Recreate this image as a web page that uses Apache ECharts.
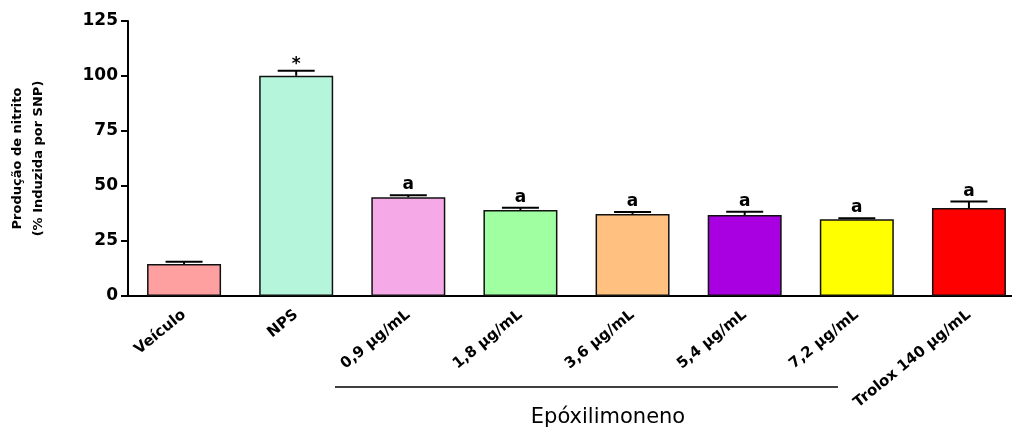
<!DOCTYPE html>
<html>
<head>
<meta charset="utf-8">
<script src="https://cdn.jsdelivr.net/npm/echarts@6/dist/echarts.min.js"></script>
<style>
  html, body { margin: 0; padding: 0; background: #fff; }
  #chart { width: 1012px; height: 429px; }
</style>
</head>
<body>
<div id="chart"></div>
<script>
// Nitrite production per group (% of SNP-induced), mean and SEM
const categories = ['Veículo', 'NPS', '0,9 µg/mL', '1,8 µg/mL', '3,6 µg/mL', '5,4 µg/mL', '7,2 µg/mL', 'Trolox 140 µg/mL'];
const means = [14.5, 100.1, 44.9, 39.1, 37.3, 36.8, 34.9, 40.0];
const sem = [1.1, 2.3, 0.9, 1.0, 0.9, 1.5, 0.4, 2.9];
const marks = ['', '*', 'a', 'a', 'a', 'a', 'a', 'a'];
const colors = ['#FFA0A0', '#B4F5DC', '#F5A9E6', '#A0FFA0', '#FFC080', '#A800E0', '#FFFF00', '#FF0000'];
const yTicks = [0, 25, 50, 75, 100, 125];

const BOLD = '"DejaVu Sans", "Liberation Sans", Arial, sans-serif';

const chart = echarts.init(document.getElementById('chart'));

const barData = means.map((v, i) => ({
  value: v,
  itemStyle: { color: colors[i] }
}));
const errData = means.map((v, i) => [i, v, v + sem[i], marks[i]]);

chart.setOption({
  animation: false,
  backgroundColor: '#fff',
  grid: { left: 128, right: -13, top: 21, bottom: 133, containLabel: false, outerBoundsMode: 'none' },
  xAxis: {
    type: 'category',
    data: categories,
    axisLine: { lineStyle: { color: '#000', width: 2 } },
    axisTick: { show: false },
    axisLabel: {
      rotate: 39,
      interval: 0,
      margin: 17,
      color: '#000',
      fontFamily: BOLD,
      fontWeight: 'bold',
      fontSize: 15
    }
  },
  yAxis: {
    type: 'value',
    min: yTicks[0],
    max: yTicks[yTicks.length - 1],
    interval: 25,
    name: 'Produção de nitrito\n(% Induzida por SNP)',
    nameLocation: 'middle',
    nameGap: 79,
    nameRotate: 90,
    nameTextStyle: {
      color: '#000',
      fontFamily: BOLD,
      fontWeight: 'bold',
      fontSize: 13,
      lineHeight: 21,
      align: 'center'
    },
    splitLine: { show: false },
    axisLine: { show: true, lineStyle: { color: '#000', width: 2 } },
    axisTick: { show: true, length: 7, lineStyle: { color: '#000', width: 2 } },
    axisLabel: {
      margin: 10,
      color: '#000',
      fontFamily: BOLD,
      fontWeight: 'bold',
      fontSize: 17
    }
  },
  series: [
    {
      type: 'bar',
      data: barData,
      barWidth: 74,
      itemStyle: { borderColor: '#111', borderWidth: 1.5 }
    },
    {
      type: 'custom',
      data: errData,
      encode: { x: 0, y: [1, 2] },
      z: 5,
      renderItem: function (params, api) {
        const i = api.value(0);
        const base = api.coord([i, api.value(1)]);
        const top = api.coord([i, api.value(2)]);
        const half = api.size([1, 0])[0] * 0.165;
        const mark = errData[params.dataIndex][3];
        const style = { stroke: '#000', lineWidth: 2 };
        const children = [
          { type: 'line', shape: { x1: base[0], y1: base[1], x2: top[0], y2: top[1] }, style: style },
          { type: 'line', shape: { x1: top[0] - half, y1: top[1], x2: top[0] + half, y2: top[1] }, style: style }
        ];
        if (mark) {
          children.push({
            type: 'text',
            style: {
              text: mark,
              x: top[0],
              y: top[1] + (mark === '*' ? 2 : -2),
              align: 'center',
              verticalAlign: 'bottom',
              fill: '#000',
              font: 'bold 17px ' + BOLD
            }
          });
        }
        return { type: 'group', children: children };
      }
    }
  ],
  graphic: [
    {
      type: 'line',
      shape: { x1: 335, y1: 387, x2: 838, y2: 387 },
      style: { stroke: '#000', lineWidth: 1.6 }
    },
    {
      type: 'text',
      x: 608,
      y: 428,
      style: {
        text: 'Epóxilimoneno',
        align: 'center',
        verticalAlign: 'bottom',
        fill: '#000',
        font: '21px "DejaVu Sans", "Liberation Sans", Arial, sans-serif'
      }
    }
  ]
});
</script>
</body>
</html>
